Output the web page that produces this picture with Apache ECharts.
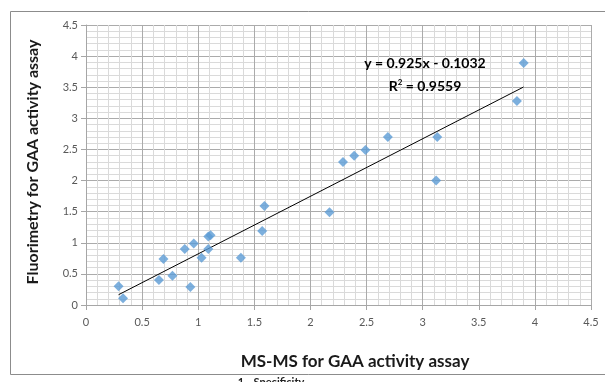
<!DOCTYPE html>
<html>
<head>
<meta charset="utf-8">
<script src="https://cdn.jsdelivr.net/npm/echarts@6/dist/echarts.min.js"></script>
<style>
  html, body { margin: 0; padding: 0; background: #fff; }
  #main { width: 605px; height: 382px; }
</style>
</head>
<body>
<div id="main"></div>
<script>
// MS-MS (x) vs fluorimetry (y)
var msms = [0.29, 0.33, 0.65, 0.69, 0.77, 0.88, 0.93, 0.96, 1.03, 1.09, 1.11, 1.09, 1.38, 1.57, 1.59, 2.17, 2.29, 2.39, 2.49, 2.69, 3.13, 3.12, 3.84, 3.90]
var fluor = [0.30, 0.11, 0.40, 0.74, 0.47, 0.90, 0.29, 0.99, 0.76, 1.10, 1.12, 0.90, 0.76, 1.19, 1.59, 1.49, 2.30, 2.40, 2.49, 2.70, 2.70, 2.00, 3.28, 3.89]
var slope = 0.925
var intercept = -0.1032
var r2 = 0.9559
var tickValues = [0, 0.5, 1, 1.5, 2, 2.5, 3, 3.5, 4, 4.5]

var points = msms.map(function (x, i) { return [x, fluor[i]] })
var xMin = Math.min.apply(null, msms)
var xMax = Math.max.apply(null, msms)
var trend = [[xMin, slope * xMin + intercept], [xMax, slope * xMax + intercept]]

var font = 'Lato, "Open Sans", sans-serif'

function valueAxis(){
  return {
    type: 'value',
    min: 0,
    max: 4.5,
    interval: 0.5,
    axisLine: { show: true, lineStyle: { color: '#a6a6a6', width: 1 } },
    axisTick: { show: true, length: 5, lineStyle: { color: '#a6a6a6' } },
    axisLabel: {
      color: '#595959', fontSize: 11, fontFamily: font,
      formatter: function (v) { return tickValues.indexOf(v) > -1 ? String(v) : '' }
    },
    splitLine: { show: true, lineStyle: { color: '#ababab', width: 1 } },
    minorTick: { show: false, splitNumber: 5 },
    minorSplitLine: { show: true, lineStyle: { color: '#dadada', width: 1 } }
  }
}

var xAxis = valueAxis()
xAxis.axisLabel.margin = 12
var yAxis = valueAxis()
yAxis.axisLabel.margin = 8

var chart = echarts.init(document.getElementById('main'), null, { renderer: 'canvas' })
chart.setOption({
  animation: false,
  backgroundColor: '#fff',
  grid: { left: 86, right: 14, top: 25, bottom: 77, containLabel: false },
  xAxis: xAxis,
  yAxis: yAxis,
  graphic: [
    {   // outer chart frame
      type: 'rect', silent: true, z: -1,
      shape: { x: 10.5, y: 11.5, width: 620, height: 363 },
      style: { fill: null, stroke: '#8c8c8c', lineWidth: 1 }
    },
    {
      type: 'text', silent: true, z: 100,
      style: { text: '1 - Specificity', x: 271, y: 377, align: 'center', verticalAlign: 'top',
        font: 'bold 11px ' + font, fill: '#222' }
    },
    {
      type: 'text', silent: true, z: 100,
      style: { text: 'MS-MS for GAA activity assay', x: 355, y: 362, align: 'center', verticalAlign: 'middle',
        font: 'bold 17px ' + font, fill: '#1a1a1a' }
    },
    {
      type: 'text', silent: true, z: 100, rotation: Math.PI / 2, x: 33, y: 162,
      style: { text: 'Fluorimetry for GAA activity assay', x: 0, y: 0, align: 'center', verticalAlign: 'middle',
        font: 'bold 16px ' + font, fill: '#1a1a1a' }
    },
    {
      type: 'text', silent: true, z: 100,
      style: { text: 'y = 0.925x - 0.1032', x: 425, y: 63, align: 'center', verticalAlign: 'middle',
        font: 'bold 14px ' + font, fill: '#000' }
    },
    {
      type: 'text', silent: true, z: 100,
      style: { rich: { s: { fontSize: 8, fontWeight: 'bold', fontFamily: font, fill: '#000', padding: [0, 0, 7, 0] } },
        text: 'R{s|2} = ' + r2, x: 425, y: 86, align: 'center', verticalAlign: 'middle',
        font: 'bold 14px ' + font, fill: '#000' }
    }
  ],
  series: [
    {
      name: 'data',
      type: 'scatter',
      symbol: 'diamond',
      symbolSize: 10,
      itemStyle: { color: '#5b9bd5' },
      data: points,
      z: 3
    },
    {
      name: 'trend',
      type: 'line',
      showSymbol: false,
      silent: true,
      lineStyle: { color: '#000', width: 1 },
      data: trend,
      z: 2
    }
  ]
})
</script>
</body>
</html>
